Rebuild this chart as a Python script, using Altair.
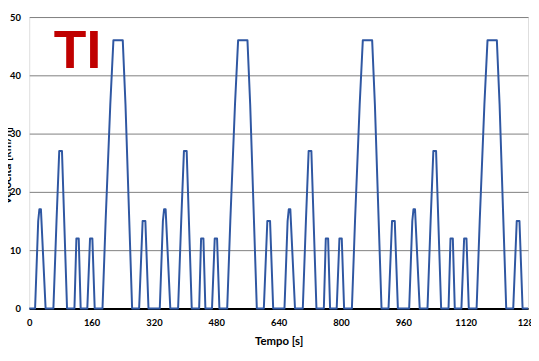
import altair as alt
import pandas as pd

# One 320 s urban cycle (time in s, speed in km/h)
cycle_t = [0, 15, 23, 26, 30, 42, 62, 70, 77, 84, 97, 116, 121, 127, 132,
           149, 156, 162, 168, 188, 196, 208, 216, 240, 247, 264, 282, 291,
           298, 306]
cycle_v = [0, 0, 15, 17, 17, 0, 0, 15, 27, 27, 0, 0, 12, 12, 0,
           0, 12, 12, 0, 0, 15, 35, 46, 46, 35, 0, 0, 15,
           15, 0]
cycle_starts = [0, 320, 640, 960]
end_time = [1280]
end_speed = [0]

x_ticks = [0, 160, 320, 480, 640, 800, 960, 1120, 1280]
y_ticks = [0, 10, 20, 30, 40, 50]

label_text = ["TI"]
label_t = [124]
label_v = [44]

rows = []
for s in cycle_starts:
    for t, v in zip(cycle_t, cycle_v):
        rows.append({"t": s + t, "v": v})
for t, v in zip(end_time, end_speed):
    rows.append({"t": t, "v": v})
df = pd.DataFrame(rows)

lab = pd.DataFrame({"t": label_t, "v": label_v, "txt": label_text})

FONT = "Lato"

x_enc = alt.X("t:Q", scale=alt.Scale(domain=[0, 1280], nice=False, zero=True),
              axis=alt.Axis(values=x_ticks, format="d", title="Tempo [s]",
                            grid=False, ticks=False, domain=True,
                            domainColor="black", domainWidth=2,
                            labelPadding=9, labelFontSize=9.5,
                            labelFontWeight="bold", labelFont=FONT,
                            labelColor="black", titleFont=FONT,
                            titleFontSize=11.5, titleFontWeight="bold",
                            titleColor="black", titlePadding=9,
                            labelOverlap=False, labelFlush=False))
y_enc = alt.Y("v:Q", scale=alt.Scale(domain=[0, 50], nice=False),
              axis=alt.Axis(values=y_ticks, format="d",
                            title="Velocità [km/h]", grid=True,
                            gridColor="#7f7f7f", gridWidth=1, ticks=False,
                            domain=False, labelPadding=9, labelFontSize=9.5,
                            labelFontWeight="bold", labelFont=FONT,
                            labelColor="black", titleFont=FONT,
                            titleFontSize=11.5, titleFontWeight="bold",
                            titleColor="black", titleX=-16.5, titleY=150))

line = alt.Chart(df).mark_line(color="#2f57a2", strokeWidth=2,
                               strokeJoin="round").encode(x=x_enc, y=y_enc)

text = alt.Chart(lab).mark_text(color="#c00000", fontSize=54,
                                font="Liberation Sans", fontWeight="bold",
                                align="center", baseline="middle").encode(
    x=alt.X("t:Q"), y=alt.Y("v:Q"), text="txt:N")

chart = alt.layer(line, text).properties(
    width=505, height=295,
    autosize=alt.AutoSizeParams(type="none"),
    padding={"left": 21.5, "top": 7, "right": 3, "bottom": 45},
).configure_view(stroke="black", strokeWidth=1.5).configure(background="white")

chart.save("out.html", embed_options={"renderer": "svg", "actions": False})
